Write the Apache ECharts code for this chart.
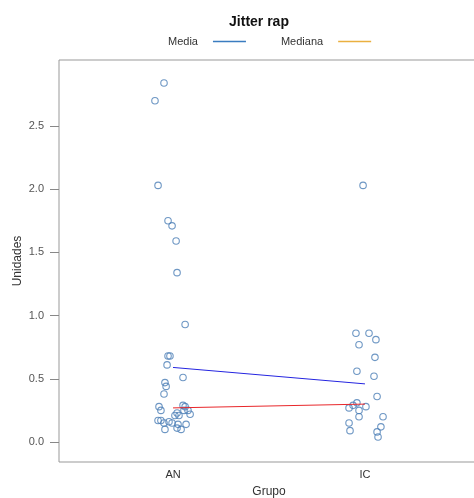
<!DOCTYPE html>
<html>
<head>
<meta charset="utf-8">
<script src="https://cdn.jsdelivr.net/npm/echarts@6/dist/echarts.min.js"></script>
<style>
  html, body { margin: 0; padding: 0; background: #fff; }
  #chart { width: 474px; height: 498px; }
</style>
</head>
<body>
<div id="chart"></div>
<script>
// groups on the x axis (1 = AN, 2 = IC)
var groups = ["AN", "IC"];
var yTicks = [0, 0.5, 1.0, 1.5, 2.0, 2.5];

// jittered x position and value of each AN point
var anX = [0.953, 0.906, 0.922, 0.974, 0.995, 1.016, 1.021, 1.063, 0.974, 0.984, 0.969, 1.052, 0.958, 0.964, 0.953,
           0.927, 0.937, 0.922, 0.937, 0.953, 0.979, 0.958, 1.010, 1.021, 1.031, 1.052, 1.063, 1.057, 1.078, 1.089,
           1.026, 1.021, 1.042, 1.068, 0.995];
var anY = [2.84, 2.70, 2.03, 1.75, 1.71, 1.59, 1.34, 0.93, 0.68, 0.68, 0.61, 0.51, 0.47, 0.44, 0.38,
           0.28, 0.25, 0.17, 0.17, 0.15, 0.16, 0.10, 0.21, 0.23, 0.21, 0.29, 0.28, 0.25, 0.25, 0.22,
           0.14, 0.11, 0.10, 0.14, 0.15];

// jittered x position and value of each IC point
var icX = [1.990, 1.953, 2.021, 1.969, 2.057, 2.052, 1.958, 2.047, 2.063, 1.958, 1.938, 1.917, 1.969, 2.005,
           1.969, 2.094, 1.917, 1.922, 2.083, 2.063, 2.068];
var icY = [2.03, 0.86, 0.86, 0.77, 0.81, 0.67, 0.56, 0.52, 0.36, 0.31, 0.29, 0.27, 0.25, 0.28,
           0.20, 0.20, 0.15, 0.09, 0.12, 0.08, 0.04];

// summary lines
var mediaVals = [0.59, 0.46];
var medianaVals = [0.27, 0.30];

function pairs(xs, ys) {
    return xs.map(function (x, i) { return [x, ys[i]]; });
}

var font = "Liberation Sans";
var chart = echarts.init(document.getElementById("chart"));

chart.setOption({
    animation: false,
    title: {
        text: "Jitter rap",
        left: 254,
        top: 10,
        textAlign: "center",
        textStyle: { fontFamily: font, fontSize: 14, fontWeight: "bold", color: "#111" }
    },
    legend: {
        top: 31,
        left: 163,
        align: "right",
        icon: "rect",
        itemWidth: 33,
        itemHeight: 1.5,
        itemGap: 35,
        textStyle: { fontFamily: font, fontSize: 11, color: "#333", padding: [0, 10, 0, 0] },
        data: ["Media", "Mediana"]
    },
    grid: {
        left: 59,
        right: -5,
        top: 60,
        bottom: 36,
        containLabel: false,
        outerBoundsMode: "none",
        show: true,
        borderColor: "#999",
        borderWidth: 1,
        backgroundColor: "transparent"
    },
    xAxis: {
        type: "value",
        min: 0.406,
        max: 2.594,
        name: "Grupo",
        nameLocation: "middle",
        nameGap: 24,
        nameMoveOverlap: false,
        nameTextStyle: { fontFamily: font, fontSize: 12, color: "#333" },
        splitLine: { show: false },
        axisLine: { show: false },
        axisTick: { show: false },
        axisLabel: {
            customValues: [1, 2],
            margin: 7,
            fontFamily: font,
            fontSize: 11,
            color: "#333",
            formatter: function (v) { return groups[Math.round(v) - 1] || ""; }
        }
    },
    yAxis: {
        type: "value",
        min: -0.158,
        max: 3.022,
        name: "Unidades",
        nameLocation: "middle",
        nameGap: 35,
        nameMoveOverlap: false,
        nameTextStyle: { fontFamily: font, fontSize: 12, color: "#333" },
        splitLine: { show: false },
        axisLine: { show: false },
        axisTick: { show: true, length: 9, customValues: yTicks, lineStyle: { color: "#888" } },
        axisLabel: {
            customValues: yTicks,
            margin: 15,
            fontFamily: font,
            fontSize: 11,
            color: "#555",
            formatter: function (v) { return v.toFixed(1); }
        }
    },
    series: [
        {
            name: "AN",
            type: "scatter",
            symbol: "circle",
            symbolSize: 6.5,
            itemStyle: { color: "transparent", borderColor: "#4a7db5", borderWidth: 1.1 },
            data: pairs(anX, anY)
        },
        {
            name: "IC",
            type: "scatter",
            symbol: "circle",
            symbolSize: 6.5,
            itemStyle: { color: "transparent", borderColor: "#4a7db5", borderWidth: 1.1 },
            data: pairs(icX, icY)
        },
        {
            name: "Media",
            type: "line",
            symbol: "none",
            lineStyle: { color: "#2424e0", width: 1 },
            // legend swatch colour differs from the drawn line, as in the original
            itemStyle: { color: "#3a7cc0" },
            data: pairs([1, 2], mediaVals)
        },
        {
            name: "Mediana",
            type: "line",
            symbol: "none",
            lineStyle: { color: "#e8262a", width: 1 },
            itemStyle: { color: "#eab040" },
            data: pairs([1, 2], medianaVals)
        }
    ]
});
</script>
</body>
</html>
